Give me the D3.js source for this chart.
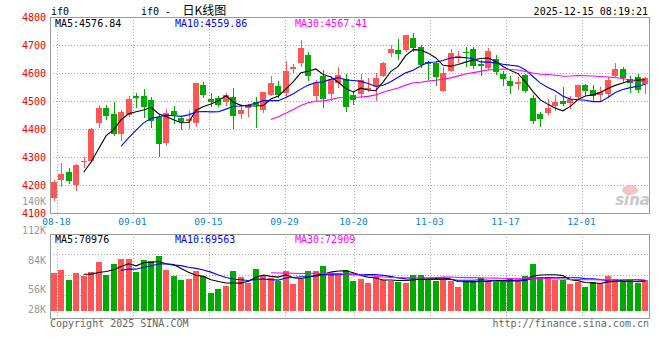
<!DOCTYPE html>
<html><head><meta charset="utf-8">
<script src="https://cdn.jsdelivr.net/npm/d3@7"></script>
<style>body{margin:0;background:#fff}svg{display:block}</style>
</head><body><svg id="c" width="660" height="360"></svg>
<script>
const dates = ["08-15","08-18","08-19","08-20","08-21","08-22","08-25","08-26","08-27","08-28","08-29",
"09-01","09-02","09-03","09-04","09-05","09-08","09-09","09-10","09-11","09-12",
"09-15","09-16","09-17","09-18","09-19","09-22","09-23","09-24","09-25","09-26",
"09-29","09-30","10-09","10-10","10-13","10-14","10-15","10-16","10-17",
"10-20","10-21","10-22","10-23","10-24","10-27","10-28","10-29","10-30","10-31",
"11-03","11-04","11-05","11-06","11-07","11-10","11-11","11-12","11-13","11-14",
"11-17","11-18","11-19","11-20","11-21","11-24","11-25","11-26","11-27","11-28",
"12-01","12-02","12-03","12-04","12-05","12-08","12-09","12-10","12-11","12-12"];
const open  = [4153,4219,4247,4201,4281,4284,4423,4475,4454,4383,4450,4519,4519,4505,4444,4350,4464,4439,4430,4423,4557,4507,4510,4497,4514,4454,4474,4495,4469,4523,4552,4530,4616,4636,4664,4518,4589,4524,4563,4580,4522,4524,4538,4555,4591,4671,4682,4682,4725,4692,4641,4634,4537,4608,4654,4676,4686,4633,4618,4650,4595,4573,4560,4592,4511,4455,4458,4482,4500,4492,4515,4556,4539,4523,4524,4591,4614,4579,4587,4560];
const high  = [4218,4280,4261,4276,4300,4402,4486,4486,4498,4468,4517,4529,4543,4513,4452,4472,4481,4445,4466,4564,4569,4529,4519,4529,4545,4489,4489,4513,4532,4590,4573,4643,4632,4718,4675,4575,4611,4589,4621,4596,4537,4598,4583,4601,4640,4701,4721,4737,4743,4701,4643,4642,4623,4686,4679,4694,4694,4648,4688,4665,4608,4588,4587,4596,4522,4460,4507,4521,4550,4518,4558,4561,4557,4551,4585,4637,4623,4591,4596,4585];
const low   = [4146,4195,4208,4182,4265,4283,4408,4436,4378,4360,4445,4480,4444,4408,4305,4344,4423,4400,4404,4411,4516,4481,4483,4486,4405,4439,4448,4408,4462,4523,4513,4518,4602,4626,4576,4500,4480,4504,4549,4466,4488,4516,4535,4505,4588,4662,4650,4680,4680,4620,4579,4558,4537,4606,4638,4626,4618,4594,4614,4598,4558,4530,4543,4532,4420,4410,4455,4468,4486,4475,4512,4522,4505,4501,4516,4591,4573,4531,4533,4527];
const close = [4212,4240,4216,4273,4286,4399,4475,4448,4382,4461,4507,4510,4479,4430,4347,4457,4451,4426,4436,4564,4523,4498,4486,4522,4448,4468,4486,4486,4532,4564,4523,4607,4621,4689,4591,4564,4507,4579,4593,4480,4502,4575,4545,4582,4637,4686,4668,4737,4689,4629,4632,4587,4601,4671,4662,4673,4626,4626,4680,4605,4580,4555,4569,4534,4428,4434,4475,4498,4490,4507,4557,4537,4519,4533,4576,4614,4581,4563,4539,4582];
const volume = [89700,96000,72600,89700,82000,91300,114800,84300,110100,121800,121800,91300,119400,117100,129500,96000,82000,72600,74900,93700,82000,42900,51500,58500,93700,79600,65600,98400,84300,78000,70300,93700,63200,74900,93700,93700,105400,87800,88300,96000,70300,74900,66300,78900,72600,70300,68600,66300,84300,84300,74200,71000,74200,70300,56200,70300,70300,78000,70300,68600,68600,74200,74200,82000,110800,80300,78000,72600,72600,63900,68600,56200,68600,64900,82700,74900,68600,74900,64900,72600];
const priceTicks = [4800,4700,4600,4500,4400,4300,4200,4100];
const volTicks = [140000,112000,84000,56000,28000];
const volTickLabels = ["140K","112K","84K","56K","28K"];
const dateTicks = ["08-18","09-01","09-15","09-29","10-20","11-03","11-17","12-01"];
const maPeriods = [5,10,30];
const maColors = ["#000000","#0000ff","#ff00ff"];
const priceMaLabels = ["MA5:4576.84","MA10:4559.86","MA30:4567.41"];
const volMaLabels = ["MA5:70976","MA10:69563","MA30:72909"];

const RED = "#ff5555", GREEN = "#00aa00", GRID = "#aaaaaa", BORDER = "#999999";
const mono = "'DejaVu Sans Mono','Liberation Mono',monospace";
const svg = d3.select("#c");
const L = 50, R = 649, PT = 17, PB = 213, VT = 234, VB = 318, VBASE = 311;

const x = d3.scaleBand().domain(d3.range(dates.length)).range([L, R]);
const cx = i => x(i) + x.bandwidth() / 2;
const xGrid = d3.scaleLinear().domain([0, dates.length - 1]).range([49.4, 650.6]);
const y = d3.scaleLinear().domain([4100, 4800]).range([PB, PT]);
const yv = d3.scaleLinear().domain([0, 180000]).range([VBASE, VBASE - 180 * 0.427]);
const yvl = d3.scaleLinear().domain([28000, 140000]).range([323, 204.5]);

// grids
const gx = dateTicks.map(d => Math.round(xGrid(dates.indexOf(d))) + 0.5);
const grid = svg.append("g").attr("stroke", GRID).attr("stroke-dasharray", "1,2").attr("shape-rendering", "crispEdges");
grid.selectAll(".hp").data(priceTicks.slice(1, -1)).join("line")
  .attr("x1", L).attr("x2", R).attr("y1", d => Math.round(y(d)) + 0.5).attr("y2", d => Math.round(y(d)) + 0.5);
grid.selectAll(".vp").data(gx).join("line").attr("class","vp")
  .attr("x1", d => d).attr("x2", d => d).attr("y1", PT).attr("y2", PB);
grid.selectAll(".vv").data(gx).join("line").attr("class","vv")
  .attr("x1", d => d).attr("x2", d => d).attr("y1", VT).attr("y2", VB + 3);
grid.selectAll(".hv").data([1, 2, 3]).join("line").attr("class","hv")
  .attr("x1", L).attr("x2", R)
  .attr("y1", k => Math.round(VT + k * 20.3) + 0.5).attr("y2", k => Math.round(VT + k * 20.3) + 0.5);

// borders
svg.append("rect").attr("x", L + 0.5).attr("y", PT + 0.5).attr("width", R - L).attr("height", PB - PT)
  .attr("fill", "none").attr("stroke", BORDER).attr("shape-rendering", "crispEdges");
svg.append("rect").attr("x", L + 0.5).attr("y", VT + 0.5).attr("width", R - L).attr("height", VB - VT)
  .attr("fill", "none").attr("stroke", BORDER).attr("shape-rendering", "crispEdges");

// watermark
const wm = svg.append("g");
wm.append("ellipse").attr("cx", 630).attr("cy", 190).attr("rx", 8).attr("ry", 5).attr("fill", "#f6c4c4");
wm.append("text").attr("x", 650).attr("y", 205).attr("text-anchor", "end")
  .attr("font-family", "'DejaVu Sans',sans-serif").attr("font-style", "italic").attr("font-weight", "bold")
  .attr("font-size", 15).attr("fill", "#c8c8c8").text("sina");

// candles
const idx = d3.range(dates.length);
const col = i => close[i] >= open[i] ? RED : GREEN;
const cg = svg.append("g").attr("shape-rendering", "crispEdges");
cg.selectAll(".wick").data(idx).join("line")
  .attr("x1", i => Math.round(cx(i) - 3) + 3.5).attr("x2", i => Math.round(cx(i) - 3) + 3.5)
  .attr("y1", i => Math.round(y(high[i]))).attr("y2", i => Math.round(y(low[i])) + 1)
  .attr("stroke", col);
cg.selectAll(".body").data(idx).join("rect")
  .attr("x", i => Math.round(cx(i) - 3)).attr("width", 6)
  .attr("y", i => Math.round(y(Math.max(open[i], close[i]))))
  .attr("height", i => Math.max(1, Math.round(y(Math.min(open[i], close[i]))) - Math.round(y(Math.max(open[i], close[i])))))
  .attr("fill", col);

// volume bars
cg.selectAll(".vbar").data(idx).join("rect")
  .attr("x", i => Math.round(cx(i) - 3)).attr("width", 6)
  .attr("y", i => Math.round(yv(volume[i]))).attr("height", i => VBASE - Math.round(yv(volume[i])))
  .attr("fill", col);

// moving averages
function ma(arr, n) {
  const out = [];
  for (let i = n - 1; i < arr.length; i++) out.push({ i, v: d3.mean(arr.slice(i - n + 1, i + 1)) });
  return out;
}
maPeriods.forEach((n, k) => {
  svg.append("path").datum(ma(close, n)).attr("fill", "none").attr("stroke", maColors[k]).attr("stroke-width", 1.1)
    .attr("d", d3.line().x(d => cx(d.i)).y(d => y(d.v)));
  svg.append("path").datum(ma(volume, n)).attr("fill", "none").attr("stroke", maColors[k]).attr("stroke-width", 1.1)
    .attr("d", d3.line().x(d => cx(d.i)).y(d => yv(d.v)));
});

// texts
const t = (xx, yy, s, fill, size, anchor, fam) => svg.append("text").attr("x", xx).attr("y", yy)
  .attr("fill", fill).attr("font-size", size).attr("font-family", fam || mono)
  .attr("text-anchor", anchor || "start").text(s);

priceTicks.forEach(v => t(46, y(v) + 3.5, v, "#ee0000", 10, "end"));
volTicks.forEach((v, k) => t(46, Math.min(yvl(v), 313), volTickLabels[k], "#999999", 10, "end"));
dateTicks.forEach((d, k) => t(gx[k] - 1, 225, d, "#0a84d2", 9.5, "middle"));

t(51, 15, "if0", "#000", 10);
t(141, 15, "if0 -", "#000", 10);
t(182.5, 14.5, "日K线图", "#000", 12, "start", "'Noto Sans CJK SC',sans-serif");
t(648, 15, "2025-12-15 08:19:21", "#000", 10, "end");

const maX = [55, 175, 295];
priceMaLabels.forEach((s, k) => t(maX[k], 26.5, s, maColors[k], 10));
volMaLabels.forEach((s, k) => t(maX[k], 242.5, s, maColors[k], 10));

t(50, 327, "Copyright 2025 SINA.COM", "#666666", 10);
t(649, 327, "http://finance.sina.com.cn", "#666666", 10, "end");
</script></body></html>
